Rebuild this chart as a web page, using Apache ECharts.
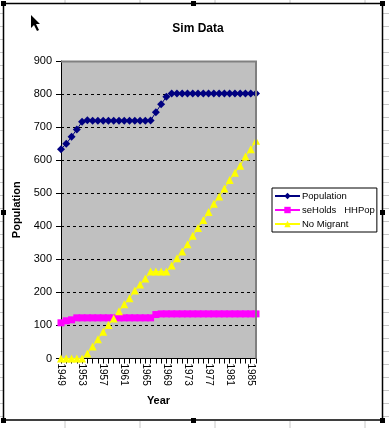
<!DOCTYPE html>
<html><head><meta charset="utf-8">
<script src="https://cdn.jsdelivr.net/npm/echarts@6/dist/echarts.min.js"></script>
<style>html,body{margin:0;padding:0;background:#fff}#c{width:389px;height:428px}</style>
</head><body><div id="c"></div>
<script>
var years = [];
for (var y = 1949; y <= 1986; y++) years.push(String(y));
var population = [633,650,671,693,716,721,719,719,719,719,719,719,719,719,719,719,719,720,745,769,792,
  802,802,802,802,802,802,802,802,802,802,802,802,802,802,802,802,802];
var households = [108,114,117,123,123,123,123,123,123,123,123,123,123,123,123,123,123,123,133,
  135,135,135,135,135,135,135,135,135,135,135,135,135,135,135,135,135,135,135];
var noMigrant = [0,0,0,0,0,15,36,58,81,101,121,143,164,182,206,224,242,263,263,263,263,281,303,324,
  346,371,395,419,443,468,490,514,540,562,583,611,633,659];
var yTicks = [0,100,200,300,400,500,600,700,800,900];

var chart = echarts.init(document.getElementById('c'), null, {renderer:'canvas'});
var font = 'Liberation Sans, Arial, sans-serif';
var gfx = [];
[65,140,215,290,365].forEach(function(x){
  gfx.push({type:'line',shape:{x1:x,y1:421,x2:x,y2:428},style:{stroke:'#c8c8c8',lineWidth:1}});
  gfx.push({type:'line',shape:{x1:x,y1:0,x2:x,y2:3},style:{stroke:'#c8c8c8',lineWidth:1}});
});
for (var k=0;k<33;k++){
  var yy = 13.5+13*k;
  gfx.push({type:'line',shape:{x1:383,y1:yy,x2:389,y2:yy},style:{stroke:'#c8c8c8',lineWidth:1}});
  gfx.push({type:'line',shape:{x1:0,y1:yy,x2:3,y2:yy},style:{stroke:'#c8c8c8',lineWidth:1}});
}
gfx.push({type:'rect',shape:{x:3.5,y:3.5,width:379,height:416.5},style:{fill:null,stroke:'#000',lineWidth:1.5},z:10});
[[3,3],[193,3],[382,3],[3,212],[382,212],[3,420],[193,420],[382,420]].forEach(function(p){
  gfx.push({type:'rect',shape:{x:p[0]-2,y:p[1]-2,width:5,height:5},style:{fill:'#000'},z:11});
});
gfx.push({type:'polygon',shape:{points:[[31,15],[31,28],[34,25],[37,31],[39,30],[36,24],[40,24]]},style:{fill:'#000'},z:12});
gfx.push({type:'polyline',shape:{points:[[61,61.5],[256,61.5],[256,358.5]]},style:{stroke:'#808080',lineWidth:2,fill:null},z:5});

var option = {
  animation:false,
  backgroundColor:'#fff',
  textStyle:{fontFamily:font},
  title:{text:'Sim Data',left:193,top:18,textAlign:'center',textStyle:{fontFamily:font,fontSize:12,fontWeight:'bold',color:'#000'}},
  grid:{left:61,right:133,top:61,bottom:69.5,show:true,backgroundColor:'#c0c0c0',borderWidth:0},
  legend:{orient:'vertical',left:272,top:188,itemWidth:25,itemHeight:8,itemGap:2,
    borderColor:'#000',borderWidth:1,padding:[2,2,2,2],backgroundColor:'#fff',
    textStyle:{fontFamily:font,fontSize:9.5,lineHeight:12,color:'#000',padding:[0,0,0,-3]},
    data:['Population','seHolds   HHPop','No Migrant']},
  xAxis:{type:'category',data:years,boundaryGap:false,
    name:'Year',nameLocation:'middle',nameGap:37,nameTextStyle:{fontFamily:font,fontSize:11,fontWeight:'bold',color:'#000'},
    axisLine:{lineStyle:{color:'#000',width:1}},
    axisTick:{interval:0,length:5,lineStyle:{color:'#000'}},
    axisLabel:{interval:3,rotate:-90,fontSize:10,color:'#000',margin:5,fontFamily:font},
    splitLine:{show:false}},
  yAxis:{type:'value',min:0,max:900,interval:100,
    name:'Population',nameLocation:'middle',nameGap:29,nameTextStyle:{fontFamily:font,fontSize:11,fontWeight:'bold',color:'#000'},
    axisLine:{show:true,lineStyle:{color:'#000',width:1}},
    axisTick:{show:true,length:5,lineStyle:{color:'#000'}},
    axisLabel:{fontSize:11,color:'#000',margin:9,fontFamily:font,
      formatter:function(v){return yTicks.indexOf(v)>=0?String(v):'';}},
    splitLine:{show:true,lineStyle:{color:'#000',type:[3,3],width:1}}},
  series:[
    {name:'Population',type:'line',data:population,symbol:'diamond',symbolSize:8,showAllSymbol:true,
      itemStyle:{color:'#000080'},lineStyle:{color:'#000080',width:1}},
    {name:'seHolds   HHPop',type:'line',data:households,symbol:'rect',symbolSize:7,showAllSymbol:true,
      itemStyle:{color:'#ff00ff'},lineStyle:{color:'#ff00ff',width:1}},
    {name:'No Migrant',type:'line',data:noMigrant,symbol:'triangle',symbolSize:8,showAllSymbol:true,
      itemStyle:{color:'#ffff00'},lineStyle:{color:'#ffff00',width:1}}
  ],
  graphic:gfx
};
chart.setOption(option);
</script></body></html>
